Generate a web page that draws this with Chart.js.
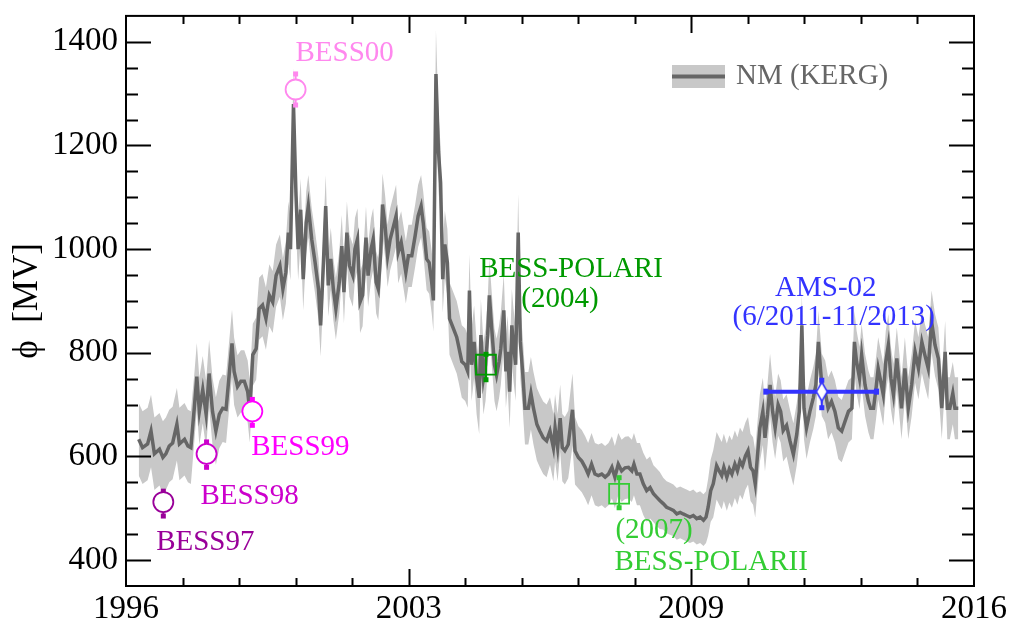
<!DOCTYPE html>
<html>
<head>
<meta charset="utf-8">
<script src="https://cdn.jsdelivr.net/npm/chart.js@4.4.1/dist/chart.umd.min.js"></script>
<style>
  html, body { margin: 0; padding: 0; background: #fff; }
  #wrap { width: 1016px; height: 630px; }
</style>
</head>
<body>
<div id="wrap"><canvas id="phiChart"></canvas></div>
<script>
// --- NM (Kerguelen) modulation potential ---
const nmYear = [
  1996.30, 1996.39, 1996.51, 1996.59, 1996.67, 1996.79, 1996.87, 1996.94, 1997.02, 1997.10,
  1997.20, 1997.26, 1997.38, 1997.46, 1997.53, 1997.61, 1997.67, 1997.73, 1997.81, 1997.89,
  1997.96, 1998.04, 1998.12, 1998.20, 1998.28, 1998.36, 1998.42, 1998.50, 1998.55, 1998.63,
  1998.71, 1998.79, 1998.87, 1998.92, 1998.99, 1999.07, 1999.14, 1999.22, 1999.30, 1999.38,
  1999.46, 1999.54, 1999.63, 1999.70, 1999.77, 1999.83, 1999.88, 1999.95, 2000.01, 2000.06,
  2000.12, 2000.18, 2000.25, 2000.30, 2000.38, 2000.46, 2000.54, 2000.59, 2000.65, 2000.71,
  2000.77, 2000.83, 2000.89, 2000.95, 2001.03, 2001.09, 2001.14, 2001.21, 2001.27, 2001.35,
  2001.40, 2001.46, 2001.52, 2001.58, 2001.66, 2001.71, 2001.78, 2001.83, 2001.90, 2001.95,
  2002.01, 2002.05, 2002.11, 2002.17, 2002.23, 2002.29, 2002.37, 2002.42, 2002.49, 2002.54,
  2002.60, 2002.66, 2002.74, 2002.82, 2002.89, 2002.96, 2003.01, 2003.09, 2003.15, 2003.21,
  2003.25, 2003.31, 2003.37, 2003.42, 2003.47, 2003.52, 2003.58, 2003.63, 2003.72, 2003.80,
  2003.84, 2003.92, 2004.00, 2004.06, 2004.10, 2004.15, 2004.21, 2004.27, 2004.33, 2004.37,
  2004.43, 2004.48, 2004.53, 2004.57, 2004.62, 2004.69, 2004.74, 2004.80, 2004.84, 2004.91,
  2004.96, 2005.00, 2005.05, 2005.10, 2005.14, 2005.19, 2005.25, 2005.30, 2005.36, 2005.41,
  2005.49, 2005.55, 2005.61, 2005.69, 2005.76, 2005.84, 2005.92, 2006.00, 2006.08, 2006.12,
  2006.18, 2006.24, 2006.29, 2006.35, 2006.43, 2006.53, 2006.59, 2006.67, 2006.75, 2006.83,
  2006.90, 2006.98, 2007.06, 2007.14, 2007.22, 2007.30, 2007.38, 2007.46, 2007.53, 2007.61,
  2007.69, 2007.77, 2007.85, 2007.93, 2007.98, 2008.05, 2008.12, 2008.20, 2008.28, 2008.36,
  2008.44, 2008.52, 2008.59, 2008.67, 2008.75, 2008.83, 2008.91, 2008.99, 2009.07, 2009.14,
  2009.22, 2009.30, 2009.38, 2009.46, 2009.54, 2009.62, 2009.68, 2009.73, 2009.79, 2009.85,
  2009.93, 2009.99, 2010.05, 2010.10, 2010.17, 2010.23, 2010.29, 2010.36, 2010.42, 2010.48,
  2010.54, 2010.61, 2010.67, 2010.73, 2010.79, 2010.84, 2010.89, 2010.95, 2011.02, 2011.07,
  2011.13, 2011.19, 2011.25, 2011.31, 2011.38, 2011.44, 2011.50, 2011.58, 2011.66, 2011.74,
  2011.82, 2011.88, 2011.94, 2011.99, 2012.05, 2012.13, 2012.21, 2012.27, 2012.33, 2012.41,
  2012.49, 2012.56, 2012.64, 2012.72, 2012.80, 2012.88, 2012.96, 2013.04, 2013.12, 2013.18,
  2013.23, 2013.30, 2013.35, 2013.43, 2013.51, 2013.56, 2013.63, 2013.69, 2013.74, 2013.80,
  2013.86, 2013.92, 2013.98, 2014.04, 2014.10, 2014.18, 2014.24, 2014.29, 2014.37, 2014.45,
  2014.53, 2014.61, 2014.69, 2014.77, 2014.84, 2014.92, 2015.00, 2015.08, 2015.16, 2015.24,
  2015.32, 2015.37, 2015.43, 2015.50, 2015.55, 2015.63
];
const nmPhi = [
  633, 617, 624, 649, 605, 614, 598, 605, 620, 626,
  662, 624, 633, 620, 617, 693, 754, 687, 729, 681,
  760, 687, 649, 681, 693, 691, 745, 818, 764, 735,
  745, 745, 725, 687, 796, 808, 885, 892, 866, 911,
  898, 949, 968, 923, 955, 1032, 1000, 1280, 1103, 1000,
  1076, 942, 1051, 1083, 1019, 974, 923, 853, 962, 1083,
  930, 981, 923, 885, 936, 1006, 917, 1032, 968, 949,
  1000, 1019, 898, 911, 1022, 949, 1000, 1019, 936, 923,
  994, 1086, 1045, 987, 1019, 1038, 1064, 994, 1013, 987,
  955, 987, 987, 1026, 1064, 1083, 1051, 981, 974, 936,
  901, 1338, 1188, 1128, 942, 1009, 974, 866, 847, 830,
  815, 783, 777, 764, 920, 777, 821, 751, 713, 834,
  751, 777, 834, 911, 853, 777, 757, 783, 808, 882,
  764, 802, 725, 853, 815, 777, 1032, 821, 757, 693,
  693, 722, 693, 662, 649, 636, 630, 649, 617, 655,
  617, 674, 617, 611, 623, 690, 611, 598, 591, 579,
  566, 585, 566, 563, 566, 560, 566, 579, 560, 585,
  572, 578, 579, 572, 585, 566, 566, 547, 534, 540,
  528, 521, 515, 509, 502, 499, 496, 489, 492, 489,
  486, 483, 486, 480, 483, 477, 483, 502, 534, 547,
  582, 572, 563, 579, 560, 576, 566, 585, 572, 591,
  582, 601, 611, 579, 572, 547, 598, 655, 687, 636,
  681, 738, 687, 655, 700, 687, 650, 660, 630, 604,
  643, 687, 853, 693, 655, 687, 713, 738, 821, 738,
  725, 693, 706, 687, 655, 649, 668, 687, 693, 821,
  783, 751, 796, 738, 706, 693, 693, 732, 770, 745,
  719, 783, 815, 751, 719, 789, 738, 693, 770, 693,
  738, 802, 770, 821, 796, 770, 860, 815, 789, 693,
  802, 693, 693, 722, 693, 693
];
// half width of the grey uncertainty band
const nmErr = [
  70, 70, 70, 70, 70, 70, 70, 70, 70, 70,
  70, 70, 70, 70, 70, 65, 65, 65, 65, 65,
  65, 65, 65, 65, 65, 65, 65, 65, 65, 60,
  60, 60, 60, 60, 60, 60, 60, 60, 60, 60,
  60, 60, 60, 60, 60, 60, 60, 70, 65, 60,
  60, 60, 60, 60, 60, 60, 60, 60, 60, 60,
  60, 60, 60, 60, 60, 60, 60, 60, 60, 60,
  60, 60, 60, 60, 60, 60, 60, 60, 60, 60,
  60, 60, 60, 60, 60, 60, 60, 60, 60, 60,
  60, 60, 60, 60, 60, 60, 60, 60, 60, 60,
  60, 85, 75, 70, 65, 65, 65, 70, 70, 70,
  70, 70, 70, 70, 70, 70, 70, 70, 70, 70,
  70, 70, 70, 70, 70, 70, 70, 70, 70, 70,
  70, 70, 70, 70, 70, 70, 75, 70, 70, 70,
  70, 70, 70, 70, 70, 70, 70, 65, 65, 65,
  65, 65, 65, 65, 65, 70, 65, 60, 60, 60,
  60, 60, 60, 60, 60, 60, 60, 60, 60, 60,
  60, 60, 60, 60, 60, 60, 60, 60, 60, 60,
  55, 55, 55, 50, 50, 50, 50, 50, 50, 50,
  50, 50, 50, 50, 50, 50, 50, 55, 60, 65,
  65, 65, 65, 65, 65, 65, 65, 65, 65, 65,
  65, 65, 65, 65, 65, 65, 65, 65, 65, 65,
  60, 60, 60, 60, 60, 60, 60, 60, 60, 60,
  60, 60, 60, 60, 60, 60, 60, 60, 60, 60,
  60, 60, 60, 60, 60, 60, 60, 60, 60, 60,
  60, 60, 60, 60, 60, 60, 60, 60, 60, 60,
  60, 60, 60, 60, 60, 60, 60, 60, 60, 60,
  60, 60, 60, 60, 60, 60, 60, 60, 60, 60,
  60, 60, 60, 60, 60, 60
];

// --- balloon / space measurements ---
const bessNames = ['BESS97', 'BESS98', 'BESS99', 'BESS00', 'BESS-POLARI', 'BESS-POLARII'];
const bessYear = [1996.88, 1997.90, 1998.98, 2000.00, 2004.49, 2007.63];
const bessPhi = [512, 605, 687, 1308, 777, 528];
const bessLo = [485, 579, 660, 1278, 748, 501];
const bessHi = [533, 628, 710, 1338, 797, 559];

const amsName = ['AMS-02'];
const amsYear = [2012.41];
const amsPhi = [725];
const amsLo = [694];
const amsHi = [747];
const amsFrom = [2011.09];
const amsTo = [2013.70];

const xTickLabels = ['1996', '2003', '2009', '2016'];
const yTickValues = [400, 600, 800, 1000, 1200, 1400];

// --- styles ---
const FONT = '"Liberation Serif", "Times New Roman", serif';
const NM_COLOR = '#666666';
const BAND_COLOR = '#c8c8c8';
const BESS_COLORS = ['#990099', '#cc00cc', '#ff00ff', '#ff88ee', '#009900', '#33cc33'];
const BESS_SHAPES = ['circle', 'circle', 'circle', 'circle', 'rect', 'rect'];
const AMS_COLOR = '#3333ff';

// label placement relative to the marker (pixels)
const LABEL_POS = [
  { ref: 0, text: bessNames[0], dx: 42, dy: 40 },
  { ref: 1, text: bessNames[1], dx: 43, dy: 43 },
  { ref: 2, text: bessNames[2], dx: 48, dy: 36 },
  { ref: 3, text: bessNames[3], dx: 49, dy: -36 },
  { ref: 4, text: bessNames[4], dx: 85, dy: -95 },
  { ref: 4, text: '(2004)', dx: 74, dy: -65 },
  { ref: 5, text: '(2007)', dx: 35, dy: 37 },
  { ref: 5, text: bessNames[5], dx: 92, dy: 69 },
  { ref: 6, text: amsName[0], dx: 4, dy: -103 },
  { ref: 6, text: '(6/2011-11/2013)', dx: 12, dy: -74 }
];

function diamondStyle(color) {
  const c = document.createElement('canvas');
  c.width = 14;
  c.height = 22;
  const g = c.getContext('2d');
  g.beginPath();
  g.moveTo(7, 1.5);
  g.lineTo(12.5, 11);
  g.lineTo(7, 20.5);
  g.lineTo(1.5, 11);
  g.closePath();
  g.fillStyle = '#fff';
  g.fill();
  g.lineWidth = 1.5;
  g.strokeStyle = color;
  g.stroke();
  return c;
}

// --- datasets ---
const nmPoints = (offset) => nmYear.map((t, i) => ({ x: t, y: nmPhi[i] + offset * nmErr[i] }));

const datasets = [
  { data: nmPoints(-1), borderColor: 'rgba(0,0,0,0)', pointRadius: 0, fill: false, order: 10 },
  { data: nmPoints(1), borderColor: 'rgba(0,0,0,0)', backgroundColor: BAND_COLOR, pointRadius: 0, fill: '-1', order: 10 },
  { data: nmPoints(0), borderColor: NM_COLOR, borderWidth: 3.5, pointRadius: 0, fill: false, order: 5 }
];
bessNames.forEach((name, i) => {
  datasets.push({
    label: name,
    data: [{ x: bessYear[i], y: bessPhi[i] }],
    showLine: false,
    pointStyle: BESS_SHAPES[i],
    pointRadius: BESS_SHAPES[i] === 'rect' ? 14.1 : 10,
    pointBorderWidth: 1.8,
    pointBorderColor: BESS_COLORS[i],
    pointBackgroundColor: BESS_SHAPES[i] === 'rect' ? 'rgba(0,0,0,0)' : '#fff',
    clip: false,
    order: 1
  });
});
datasets.push({
  label: amsName[0],
  data: [{ x: amsYear[0], y: amsPhi[0] }],
  showLine: false,
  pointStyle: diamondStyle(AMS_COLOR),
  pointRadius: 10,
  clip: false,
  order: 0
});

// error bars (drawn right after the NM line, under the markers)
const errorBars = {
  id: 'errorBars',
  afterDatasetDraw(chart, args) {
    if (args.index !== 2) return;
    const { ctx, scales: { x, y } } = chart;
    ctx.save();
    const cap = (px, py, c, w, h) => { ctx.fillStyle = c; ctx.fillRect(px - w / 2, py - h / 2, w, h); };
    bessYear.forEach((t, i) => {
      const px = x.getPixelForValue(t);
      const lo = y.getPixelForValue(bessLo[i]);
      const hi = y.getPixelForValue(bessHi[i]);
      ctx.strokeStyle = BESS_COLORS[i];
      ctx.lineWidth = 2;
      ctx.beginPath();
      ctx.moveTo(px, lo);
      ctx.lineTo(px, hi);
      ctx.stroke();
      cap(px, lo, BESS_COLORS[i], 5, 5);
      cap(px, hi, BESS_COLORS[i], 5, 5);
    });
    amsYear.forEach((t, i) => {
      const px = x.getPixelForValue(t);
      const py = y.getPixelForValue(amsPhi[i]);
      const x0 = x.getPixelForValue(amsFrom[i]);
      const x1 = x.getPixelForValue(amsTo[i]);
      const lo = y.getPixelForValue(amsLo[i]);
      const hi = y.getPixelForValue(amsHi[i]);
      ctx.strokeStyle = AMS_COLOR;
      ctx.lineWidth = 4;
      ctx.beginPath();
      ctx.moveTo(x0, py);
      ctx.lineTo(x1, py);
      ctx.stroke();
      ctx.lineWidth = 2;
      ctx.beginPath();
      ctx.moveTo(px, lo);
      ctx.lineTo(px, hi);
      ctx.stroke();
      cap(x0, py, AMS_COLOR, 5, 6);
      cap(x1, py, AMS_COLOR, 5, 6);
      cap(px, lo, AMS_COLOR, 5, 5);
      cap(px, hi, AMS_COLOR, 5, 5);
    });
    ctx.restore();
  }
};

// frame with inward ticks on all four sides
const frameTicks = {
  id: 'frameTicks',
  afterDraw(chart) {
    const { ctx, chartArea: a, scales: { x, y } } = chart;
    ctx.save();
    ctx.strokeStyle = '#000';
    ctx.lineWidth = 2;
    ctx.beginPath();
    for (let v = y.min + 50; v < y.max; v += 50) {
      const py = Math.round(y.getPixelForValue(v)) + 0.5;
      const len = (v % 200 === 0) ? 25 : 12;
      ctx.moveTo(a.left, py); ctx.lineTo(a.left + len, py);
      ctx.moveTo(a.right, py); ctx.lineTo(a.right - len, py);
    }
    for (let k = 1; k < 15; k++) {
      const px = Math.round(x.getPixelForValue(x.min + k * (x.max - x.min) / 15)) + 0.5;
      const len = (k % 5 === 0) ? 17 : 8;
      ctx.moveTo(px, a.top); ctx.lineTo(px, a.top + len);
      ctx.moveTo(px, a.bottom); ctx.lineTo(px, a.bottom - len);
    }
    ctx.stroke();
    ctx.strokeRect(a.left, a.top, a.right - a.left, a.bottom - a.top);
    ctx.restore();
  }
};

// text labels and legend
const annotations = {
  id: 'annotations',
  afterDraw(chart) {
    const { ctx, scales: { x, y } } = chart;
    const refX = (r) => r < 6 ? bessYear[r] : amsYear[0];
    const refY = (r) => r < 6 ? bessPhi[r] : amsPhi[0];
    const refC = (r) => r < 6 ? BESS_COLORS[r] : AMS_COLOR;
    ctx.save();
    ctx.font = '29px ' + FONT;
    ctx.textAlign = 'center';
    ctx.textBaseline = 'middle';
    LABEL_POS.forEach(l => {
      ctx.fillStyle = refC(l.ref);
      ctx.fillText(l.text, x.getPixelForValue(refX(l.ref)) + l.dx, y.getPixelForValue(refY(l.ref)) + l.dy);
    });
    // legend
    ctx.fillStyle = BAND_COLOR;
    ctx.fillRect(672, 65, 53, 23);
    ctx.strokeStyle = NM_COLOR;
    ctx.lineWidth = 4;
    ctx.beginPath();
    ctx.moveTo(672, 76.5);
    ctx.lineTo(725, 76.5);
    ctx.stroke();
    ctx.fillStyle = NM_COLOR;
    ctx.textAlign = 'left';
    ctx.fillText('NM (KERG)', 736, 76);
    ctx.restore();
  }
};

new Chart(document.getElementById('phiChart'), {
  type: 'line',
  data: { datasets },
  options: {
    responsive: true,
    maintainAspectRatio: false,
    animation: false,
    events: [],
    layout: { padding: { top: 12, right: 42, left: 0, bottom: 0 } },
    elements: { line: { tension: 0 } },
    plugins: { legend: { display: false }, tooltip: { enabled: false } },
    scales: {
      x: {
        type: 'linear',
        min: 1996,
        max: 2016,
        grid: { display: false, drawTicks: false },
        border: { display: false },
        afterBuildTicks: s => {
          s.ticks = Array.from({ length: 16 }, (_, k) => ({ value: s.min + k * (s.max - s.min) / 15 }));
        },
        afterFit: s => { s.height = 44; s.paddingLeft = 0; s.paddingRight = 0; },
        ticks: {
          autoSkip: false,
          maxRotation: 0,
          minRotation: 0,
          padding: 4,
          color: '#000',
          font: { family: FONT, size: 33 },
          callback: (v, i) => (i % 5 === 0 ? xTickLabels[i / 5] : '')
        }
      },
      y: {
        type: 'linear',
        min: 350,
        max: 1450,
        grid: { display: false, drawTicks: false },
        border: { display: false },
        afterBuildTicks: s => { s.ticks = yTickValues.map(v => ({ value: v })); },
        afterFit: s => { s.width = 126; s.paddingTop = 0; s.paddingBottom = 0; },
        ticks: {
          padding: 8,
          color: '#000',
          font: { family: FONT, size: 33 },
          callback: v => String(v)
        },
        title: {
          display: true,
          text: 'ϕ  [MV]',
          color: '#000',
          font: { family: FONT, size: 35 },
          padding: { top: 7, bottom: 0 }
        }
      }
    }
  },
  plugins: [errorBars, frameTicks, annotations]
});
</script>
</body>
</html>
